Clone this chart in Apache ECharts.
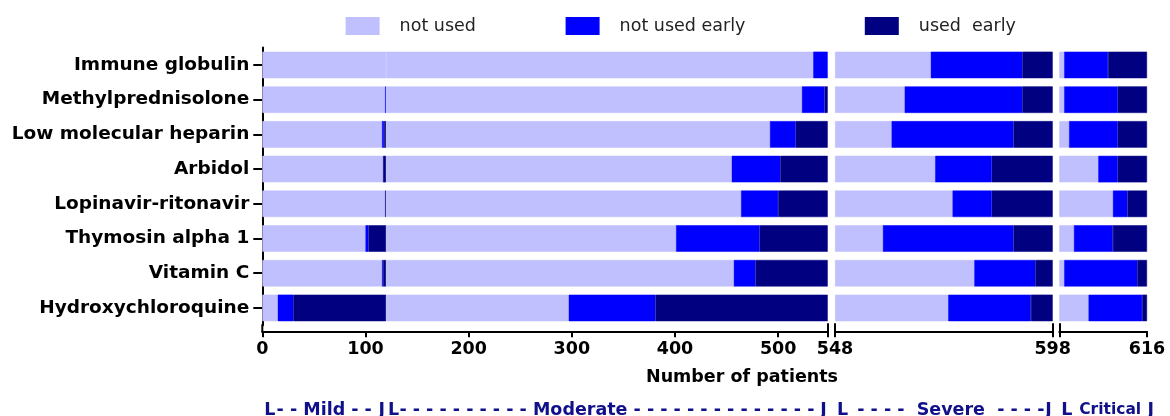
<!DOCTYPE html>
<html>
<head>
<meta charset="utf-8">
<script src="https://cdn.jsdelivr.net/npm/echarts@6/dist/echarts.min.js"></script>
<style>
  html, body { margin: 0; padding: 0; background: #fff; }
  #main { width: 1170px; height: 416px; }
</style>
</head>
<body>
<div id="main"></div>
<script>
  // drugs, top to bottom
  const categories = ['Immune globulin', 'Methylprednisolone', 'Low molecular heparin', 'Arbidol',
    'Lopinavir-ritonavir', 'Thymosin alpha 1', 'Vitamin C', 'Hydroxychloroquine']

  // mild (120 patients)
  const mildNotUsed      = [120, 119, 116, 117, 119, 100, 116, 15]
  const mildNotUsedEarly = [0, 1, 2, 0, 0, 3, 1, 15]
  const mildUsedEarly    = [0, 0, 2, 3, 1, 17, 3, 90]
  // moderate (428 patients)
  const modNotUsed       = [414, 403, 372, 335, 344, 281, 337, 177]
  const modNotUsedEarly  = [14, 22, 25, 47, 36, 81, 21, 84]
  const modUsedEarly     = [0, 3, 31, 46, 48, 66, 70, 167]
  // severe (50 patients)
  const sevNotUsed       = [22, 16, 13, 23, 27, 11, 32, 26]
  const sevNotUsedEarly  = [21, 27, 28, 13, 9, 30, 14, 19]
  const sevUsedEarly     = [7, 7, 9, 14, 14, 9, 4, 5]
  // critical (18 patients)
  const critNotUsed      = [1, 1, 2, 8, 11, 3, 1, 6]
  const critNotUsedEarly = [9, 11, 10, 4, 3, 8, 15, 11]
  const critUsedEarly    = [8, 6, 6, 6, 4, 7, 2, 1]

  const mainTicks = [0, 100, 200, 300, 400, 500]
  const breakTicks = [548, 598, 616]
  const groupNames = ['Mild', 'Moderate', 'Severe', 'Critical']
  const mildTotal = 120

  const names = ['not used', 'not used early', 'used  early']
  const colors = ['#c0c0ff', '#0000ff', '#000080']
  const font = 'DejaVu Sans'

  const grids = [
    { left: 262.3, width: 565.4 },
    { left: 835, width: 217.7 },
    { left: 1059.3, width: 87.7 }
  ]
  const gridTop = 47.6
  const gridHeight = 277.7

  const chart = echarts.init(document.getElementById('main'))

  const axisLine = { show: true, lineStyle: { color: '#000', width: 2 } }
  const labelStyle = { fontFamily: font, fontSize: 17.5, fontWeight: 'bold', color: '#000', margin: 9 }

  const spans = [breakTicks[0], breakTicks[1] - breakTicks[0], breakTicks[2] - breakTicks[1]]
  const tickOut = [mainTicks.concat([spans[0]]), [0, spans[1]], [0, spans[2]]]
  const tickIn = [[spans[0]], [0, spans[1]], [0]]
  const labelVals = [mainTicks, [0, spans[1]], [spans[2]]]
  const labelBase = [0, breakTicks[0], breakTicks[1]]

  const xAxis = []
  for (let i = 0; i < 3; i++) {
    xAxis.push({
      type: 'value', gridIndex: i, position: 'bottom', min: 0, max: spans[i], offset: 6,
      axisLine: axisLine,
      splitLine: { show: false },
      axisTick: { show: true, length: 6, lineStyle: { color: '#000', width: 2 }, customValues: tickOut[i] },
      axisLabel: Object.assign({ customValues: labelVals[i], formatter: v => String(labelBase[i] + v) }, labelStyle)
    })
  }
  // inward half of the axis break marks
  for (let i = 0; i < 3; i++) {
    xAxis.push({
      type: 'value', gridIndex: i, position: 'bottom', min: 0, max: spans[i], offset: 6,
      axisLine: { show: false },
      splitLine: { show: false },
      axisTick: { show: true, inside: true, length: 8, lineStyle: { color: '#000', width: 2 }, customValues: tickIn[i] },
      axisLabel: { show: false }
    })
  }

  const yAxis = [0, 1, 2].map(i => ({
    type: 'category', gridIndex: i, data: categories, inverse: true,
    show: i === 0,
    axisLine: axisLine,
    axisTick: { show: true, alignWithLabel: true, length: 9, lineStyle: { color: '#000', width: 2 } },
    axisLabel: { fontFamily: font, fontSize: 18.5, fontWeight: 'bold', color: '#000', margin: 13 }
  }))

  const blocks = [
    [0, [mildNotUsed, mildNotUsedEarly, mildUsedEarly]],
    [0, [modNotUsed, modNotUsedEarly, modUsedEarly]],
    [1, [sevNotUsed, sevNotUsedEarly, sevUsedEarly]],
    [2, [critNotUsed, critNotUsedEarly, critUsedEarly]]
  ]
  const series = []
  blocks.forEach(([g, arrs]) => {
    arrs.forEach((d, k) => {
      series.push({
        name: names[k], type: 'bar', xAxisIndex: g, yAxisIndex: g, stack: 'g' + g,
        // no border on empty segments, so they stay invisible
        data: d.map(v => v === 0 ? { value: 0, itemStyle: { borderWidth: 0 } } : v),
        barCategoryGap: '23.5%',
        itemStyle: { color: colors[k], borderColor: colors[k], borderWidth: 0.5 },
        emphasis: { disabled: true }
      })
    })
  })

  const legendLeft = [345.6, 565.6, 864.8]
  const legend = names.map((n, i) => ({
    data: [n], left: legendLeft[i], top: 17, padding: 0,
    itemWidth: 34, itemHeight: 18, icon: 'rect', selectedMode: false,
    itemStyle: { borderWidth: 0 },
    textStyle: { fontFamily: font, fontSize: 17.5, color: '#222', padding: [0, 0, 0, 15] }
  }))

  const option = {
    animation: false,
    backgroundColor: '#fff',
    title: {
      text: 'Number of patients', left: 646, top: 368, padding: 0,
      textStyle: { fontFamily: font, fontSize: 17.5, fontWeight: 'bold', color: '#000' }
    },
    legend: legend,
    grid: grids.map(g => ({ left: g.left, width: g.width, top: gridTop, height: gridHeight })),
    xAxis: xAxis,
    yAxis: yAxis,
    series: series
  }
  chart.setOption(option)

  // group brackets under the axis
  const px = (axis, v) => chart.convertToPixel({ xAxisIndex: axis }, v)
  const edges = [
    [px(0, 0), px(0, mildTotal)],
    [px(0, mildTotal), px(0, spans[0])],
    [px(1, 0), px(1, spans[1])],
    [px(2, 0), px(2, spans[2])]
  ]
  const middles = [
    '- - ' + groupNames[0] + ' - -',
    '- '.repeat(10) + groupNames[1] + ' -'.repeat(14),
    '- - - -  ' + groupNames[2] + '  - - - -',
    groupNames[3]
  ]
  const navy = '#10108a'
  const ty = 410
  const graphic = []
  edges.forEach(([x0, x1], i) => {
    const fs = i === 3 ? 15.5 : 17.5
    const st = (txt, x, align, size) => ({
      type: 'text', x: x, y: ty,
      style: { text: txt, fill: navy, font: 'bold ' + size + 'px "DejaVu Sans"', textAlign: align, textVerticalAlign: 'middle' }
    })
    graphic.push(st('L', x0 + 2, 'left', 17.5))
    graphic.push(st('J', i === 3 ? x1 + 7 : x1 - 1, 'right', 17.5))
    graphic.push(st(middles[i], (x0 + x1) / 2 + (i >= 2 ? 7 : 0), 'center', fs))
  })
  // join the y axis line down to the offset x axis
  graphic.push({
    type: 'line', shape: { x1: grids[0].left, y1: gridTop + gridHeight - 1, x2: grids[0].left, y2: gridTop + gridHeight + 7 },
    style: { stroke: '#000', lineWidth: 2 }
  })
  chart.setOption({ graphic: graphic })
</script>
</body>
</html>
